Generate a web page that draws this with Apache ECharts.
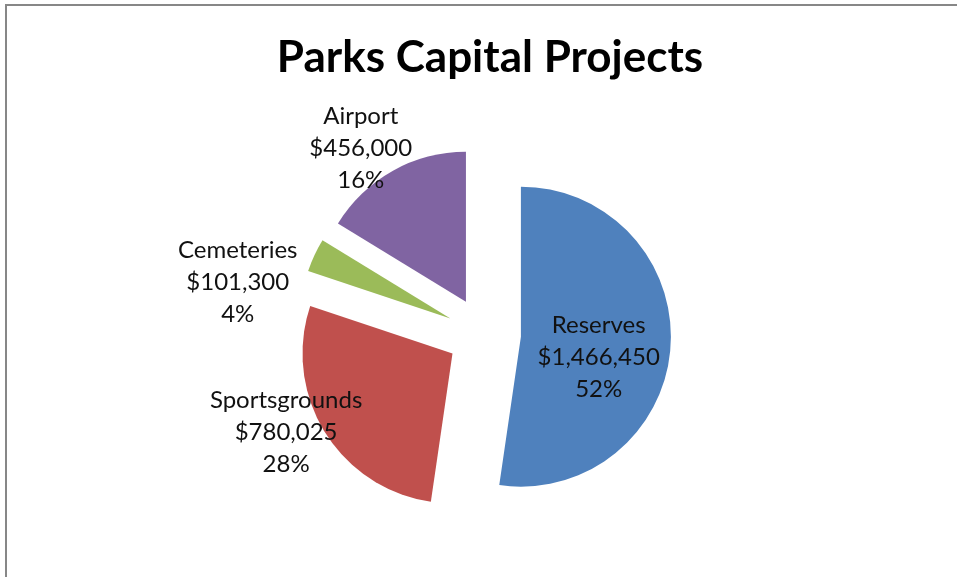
<!DOCTYPE html>
<html>
<head>
<meta charset="utf-8">
<title>Parks Capital Projects</title>
<script src="https://cdn.jsdelivr.net/npm/echarts@6/dist/echarts.min.js"></script>
<style>
  html, body { margin: 0; padding: 0; background: #ffffff; }
  #chart { width: 957px; height: 577px; }
</style>
</head>
<body>
<div id="chart"></div>
<script>
// Capital spend by park category
const categories = ['Reserves', 'Sportsgrounds', 'Cemeteries', 'Airport'];
const amounts = [1466450, 780025, 101300, 456000];

const sliceColors = ['#4F81BD', '#C0504D', '#9BBB59', '#8064A2'];

// Label nudges from the default inside position (pixels)
const labelShift = {
  Reserves: [0, 15],
  Sportsgrounds: [-100, 38],
  Cemeteries: [-142, -3],
  Airport: [-67, -85]
};

const total = amounts.reduce((a, b) => a + b, 0);
const money = v => '$' + v.toLocaleString('en-US');

const chart = echarts.init(document.getElementById('chart'), null, { renderer: 'canvas' });

chart.setOption({
  backgroundColor: '#ffffff',
  animation: false,
  title: {
    text: 'Parks Capital Projects',
    left: 485,
    textAlign: 'center',
    top: 31,
    textStyle: {
      fontFamily: 'Lato',
      fontWeight: 'bold',
      fontSize: 44,
      color: '#000000'
    }
  },
  graphic: [{
    type: 'rect',
    shape: { x: 6, y: 5, width: 1000, height: 700 },
    style: { fill: 'none', stroke: '#878787', lineWidth: 2 },
    silent: true
  }],
  series: [{
    type: 'pie',
    center: [484, 334],
    radius: [0, 150],
    startAngle: 90,
    clockwise: true,
    selectedMode: 'multiple',
    selectedOffset: 37,
    emphasis: { disabled: true },
    itemStyle: { borderWidth: 0 },
    label: {
      show: true,
      position: 'inside',
      fontFamily: 'Lato',
      fontSize: 24,
      lineHeight: 32,
      color: '#111111',
      align: 'center',
      formatter: p => p.name + '\n' + money(p.value) + '\n' + Math.round(p.value / total * 100) + '%'
    },
    labelLine: { show: false },
    labelLayout: params => {
      const name = categories[params.dataIndex];
      const s = labelShift[name];
      return { dx: s[0], dy: s[1] };
    },
    data: categories.map((name, i) => ({
      name: name,
      value: amounts[i],
      selected: true,
      itemStyle: { color: sliceColors[i] }
    }))
  }]
});
</script>
</body>
</html>
